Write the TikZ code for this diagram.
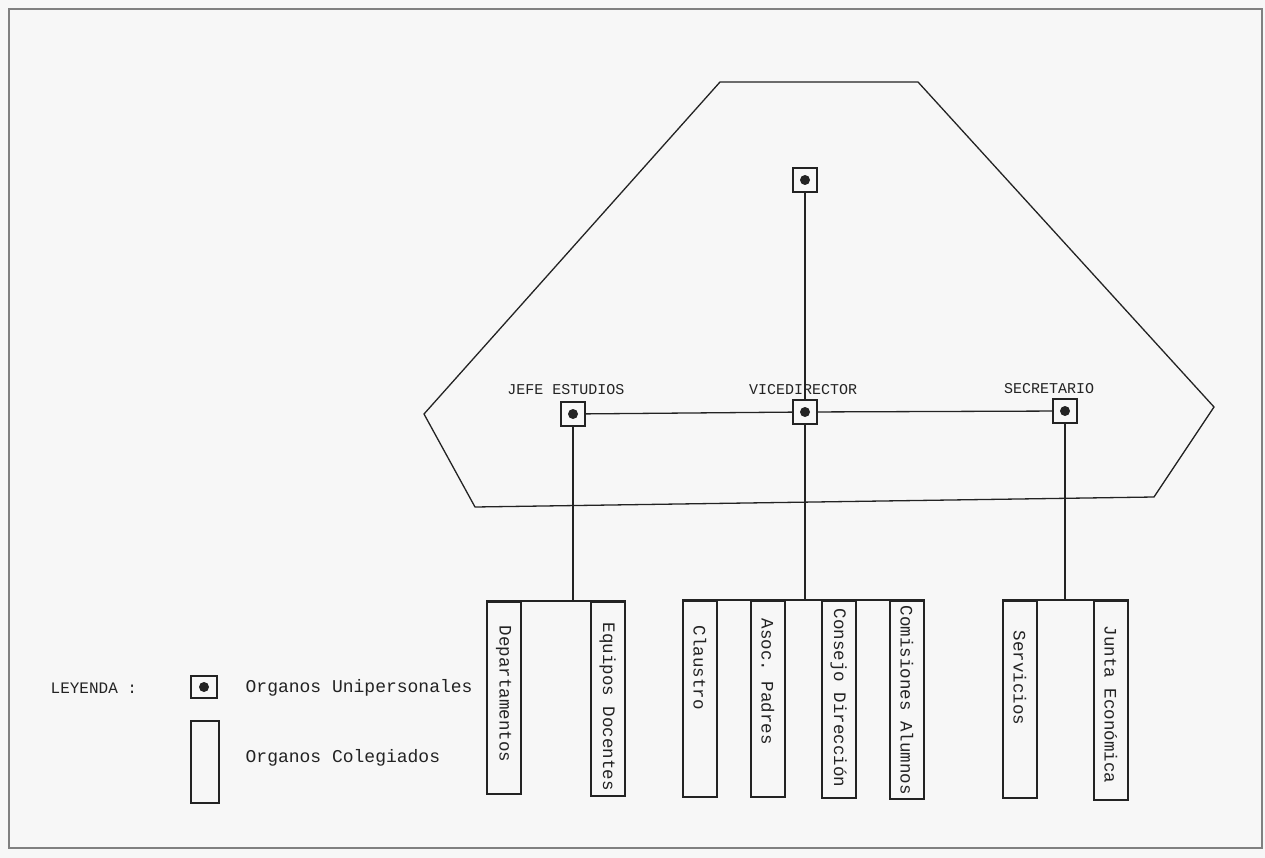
\documentclass[tikz,border=0pt]{standalone}
\usepackage{fontspec}
\setmonofont{Liberation Mono}
\usepackage{tikz}
\definecolor{paper}{RGB}{247,247,247}
\definecolor{ink}{RGB}{35,35,35}

\begin{document}
\begin{tikzpicture}
[x=1pt, y=-1pt, line width=1.3pt, color=ink, font=\ttfamily,
 unibox/.style={draw, line width=1.6pt, minimum width=24pt, minimum height=24pt, inner sep=0pt,
   path picture={\fill[ink] (path picture bounding box.center) circle (5pt);}},
 colbox/.style={draw, line width=1.5pt, minimum width=34pt, inner sep=0pt, anchor=north west},
 cargo/.style={font=\ttfamily\fontsize{15}{15}\selectfont, inner sep=0pt},
 colname/.style={rotate=-90, anchor=west, inner sep=0pt, font=\ttfamily\fontsize{17.5}{17.5}\selectfont},
 legtext/.style={anchor=west, inner sep=0pt, font=\ttfamily\fontsize{18}{18}\selectfont}]
\fill[paper] (0,0) rectangle (1265,858);
\draw[gray, line width=1.5pt] (9,9) rectangle (1262,848);
\useasboundingbox (0,0) rectangle (1265,858);
% equipo directivo
\draw (720,82) -- (918,82) -- (1214,407) -- (1154,497) -- (475,507) -- (424,414) -- cycle;
\node[unibox] (dir) at (805,180) {};
\node[unibox] (jefe) at (573,414) {}; \node[unibox] (vice) at (805,412) {}; \node[unibox] (secr) at (1065,411) {};
\node[cargo] (jefetxt) at (566,390) {JEFE ESTUDIOS};
\node[cargo] (vicetxt) at (803,390) {VICEDIRECTOR};
\node[cargo] (secrtxt) at (1049,389) {SECRETARIO};
\draw (dir) -- (vice); \draw (jefe) -- (vice); \draw (vice) -- (secr);
% organos colegiados
\node[colbox, minimum height=192pt] (dep) at (486,601) {}; \node[colbox, minimum height=194pt] (equ) at (590,601) {};
\node[colbox, minimum height=196pt] (cla) at (682,600) {}; \node[colbox, minimum height=196pt] (aso) at (750,600) {};
\node[colbox, minimum height=197pt] (con) at (821,600) {}; \node[colbox, minimum height=198pt] (com) at (889,600) {};
\node[colbox, minimum height=197pt] (ser) at (1002,600) {}; \node[colbox, minimum height=199pt] (jun) at (1093,600) {};
\node[colname] (deptxt) at ([yshift=-24pt]dep.north) {Departamentos};
\node[colname] (equtxt) at ([yshift=-21pt]equ.north) {Equipos Docentes};
\node[colname] (clatxt) at ([yshift=-25pt]cla.north) {Claustro};
\node[colname] (asotxt) at ([yshift=-18pt]aso.north) {Asoc. Padres};
\node[colname] (contxt) at ([yshift=-8pt]con.north) {Consejo Dirección};
\node[colname] (comtxt) at ([yshift=-5pt]com.north) {Comisiones Alumnos};
\node[colname] (sertxt) at ([yshift=-30pt]ser.north) {Servicios};
\node[colname] (juntxt) at ([yshift=-25pt]jun.north) {Junta Económica};
\draw (dep.north west) -- (equ.north east); \draw (cla.north west) -- (com.north east); \draw (ser.north west) -- (jun.north east);
\draw (jefe) -- (jefe |- dep.north); \draw (vice) -- (vice |- cla.north); \draw (secr) -- (secr |- ser.north);
% leyenda
\node[legtext, font=\ttfamily\fontsize{16}{16}\selectfont] (ley) at (50,688) {LEYENDA :};
\node[unibox, minimum width=26pt, minimum height=22pt] (leguni) at (204,687) {};
\node[legtext] (legunitxt) at (245,688) {Organos Unipersonales};
\node[colbox, minimum width=28pt, minimum height=82pt] (legcol) at (190,720) {};
\node[legtext] (legcoltxt) at (245,758) {Organos Colegiados};
\end{tikzpicture}
\end{document}
